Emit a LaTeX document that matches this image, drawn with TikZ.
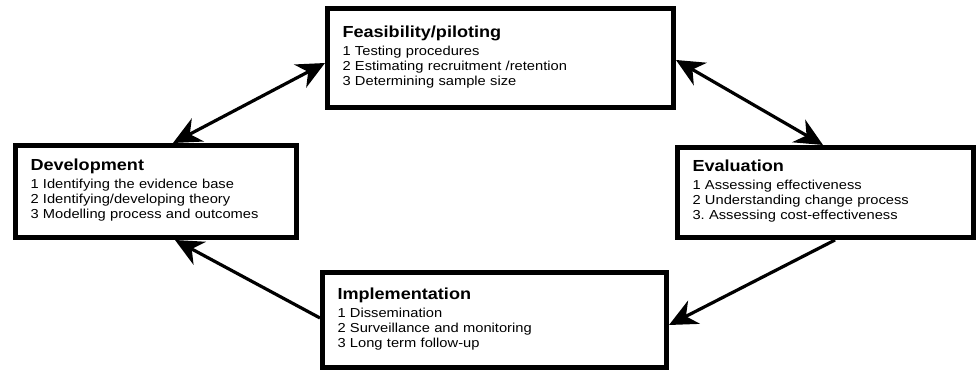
\documentclass[tikz,border=0pt]{standalone}
\usepackage{fontspec}
\setmainfont{Liberation Sans}[FakeStretch=1.13]
\usetikzlibrary{arrows.meta,calc}

\tikzset{
  stage/.style={draw, line width=5pt, outer sep=2.5pt, inner xsep=15pt, inner ysep=0pt,
    anchor=north west, align=left, font=\fontsize{13}{15}\selectfont},
  link/.style={line width=3.2pt},
  twoway/.style={link, {Stealth[length=28pt,width=26pt,inset=9pt]}-{Stealth[length=28pt,width=26pt,inset=9pt]}},
  oneway/.style={link, -{Stealth[length=28pt,width=26pt,inset=9pt]}}
}
\newcommand{\stagetitle}[1]{{\fontsize{16}{15}\selectfont\bfseries #1}\\[3pt]}
\newcommand{\lowstrut}{\rule[-5pt]{0pt}{0pt}}

\begin{document}
\begin{tikzpicture}[x=1pt,y=-1pt]
    \useasboundingbox (0,0) rectangle (976,371); % same size as the picture
    % the four stages
    \node[stage, text width=316pt, minimum height=99pt] (feas) at (325,6)
        {\stagetitle{Feasibility/piloting}1 Testing procedures\\2 Estimating recruitment /retention\\3 Determining sample size\lowstrut};
    \node[stage, text width=251pt, minimum height=92pt] (dev) at (13,143)
        {\stagetitle{Development}1 Identifying the evidence base\\2 Identifying/developing theory\\3 Modelling process and outcomes\lowstrut};
    \node[stage, text width=266pt, minimum height=90pt] (eval) at (675,145)
        {\stagetitle{Evaluation}1 Assessing effectiveness\\2 Understanding change process\\3.\ Assessing cost-effectiveness\lowstrut};
    \node[stage, text width=314pt, minimum height=95pt] (impl) at (320,270)
        {\stagetitle{Implementation}1 Dissemination\\2 Surveillance and monitoring\\3 Long term follow-up\lowstrut};
    % arrows between them
    \draw[twoway] ([xshift=160pt]dev.north west) -- ([yshift=-57pt]feas.north west);
    \draw[twoway] ([yshift=-54pt]feas.north east) -- ([xshift=148pt]eval.north west);
    \draw[oneway] ([xshift=160pt]eval.south west) -- ([yshift=-55pt]impl.north east);
    \draw[oneway] ([yshift=-48pt]impl.north west) -- ([xshift=162pt]dev.south west);
\end{tikzpicture}
\end{document}
